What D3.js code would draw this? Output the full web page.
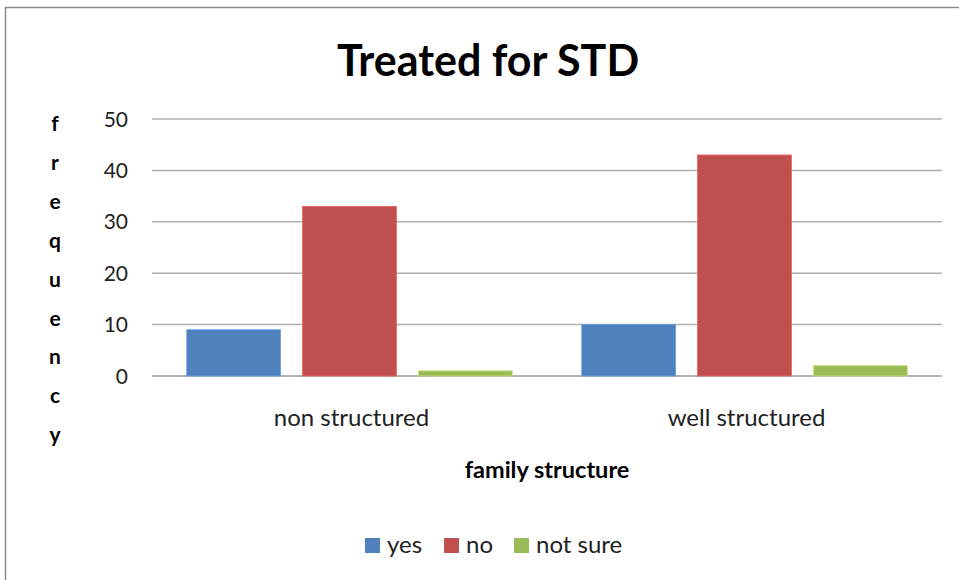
<!DOCTYPE html>
<html><head><meta charset="utf-8">
<script src="https://cdn.jsdelivr.net/npm/d3@7"></script>
<style>body{margin:0;background:#fff;} svg{display:block;}</style>
</head><body>
<script>
const categories = ["non structured", "well structured"];
const seriesNames = ["yes", "no", "not sure"];
const yesValues = [9, 10];
const noValues = [33, 43];
const notSureValues = [1, 2];
const yTicks = [0, 10, 20, 30, 40, 50];
const colors = ["#4F81BD", "#C0504D", "#9BBB59"];
const yTitle = "frequency";

const W = 959, H = 580;
const font = "Lato, 'Open Sans', sans-serif";
const svg = d3.select("body").append("svg").attr("width", W).attr("height", H);

svg.append("rect").attr("x", 5.5).attr("y", 7.5).attr("width", 960).attr("height", 600)
  .attr("fill", "#fff").attr("stroke", "#8a8a8a").attr("stroke-width", 1.5);

const m = {left: 152, right: 942, top: 119, bottom: 376};
const x = d3.scaleBand().domain(categories).range([m.left, m.right]).paddingInner(0).paddingOuter(0);
const y = d3.scaleLinear().domain([0, 50]).range([m.bottom, m.top]);
const xs = d3.scaleBand().domain(seriesNames).range([0, x.bandwidth()]).paddingInner(0.19).paddingOuter(0.3);

// gridlines
svg.append("g").selectAll("line").data(yTicks).join("line")
  .attr("x1", m.left).attr("x2", m.right)
  .attr("y1", d => y(d)).attr("y2", d => y(d))
  .attr("stroke", d => d === 0 ? "#999" : "#b0b0b0").attr("stroke-width", 1.5);

// y tick labels
svg.append("g").selectAll("text").data(yTicks).join("text")
  .attr("x", 128).attr("y", d => y(d)).attr("dy", "0.36em")
  .attr("text-anchor", "end").attr("font-family", font).attr("font-size", 21).attr("fill", "#222")
  .text(d => d);

const data = [yesValues, noValues, notSureValues];
seriesNames.forEach((s, si) => {
  svg.append("g").selectAll("rect").data(categories).join("rect")
    .attr("x", c => x(c) + xs(s))
    .attr("width", xs.bandwidth())
    .attr("y", (c, ci) => y(data[si][ci]))
    .attr("height", (c, ci) => y(0) - y(data[si][ci]))
    .attr("fill", colors[si])
    .attr("stroke", d3.color(colors[si]).brighter(0.6)).attr("stroke-width", 0.8);
});

// category labels
svg.append("g").selectAll("text").data(categories).join("text")
  .attr("x", c => x(c) + x.bandwidth() / 2 + 2).attr("y", 426)
  .attr("text-anchor", "middle").attr("font-family", font).attr("font-size", 24).attr("fill", "#222")
  .text(c => c);

// title
svg.append("text").attr("x", 488).attr("y", 76).attr("text-anchor", "middle")
  .attr("font-family", font).attr("font-weight", "bold").attr("font-size", 43).attr("fill", "#000")
  .text("Treated for STD");

// x axis title
svg.append("text").attr("x", 547).attr("y", 478).attr("text-anchor", "middle")
  .attr("font-family", font).attr("font-weight", "bold").attr("font-size", 23.5).attr("fill", "#000")
  .text("family structure");

// y axis title, stacked letters
svg.append("g").selectAll("text").data(yTitle.split("")).join("text")
  .attr("x", 55).attr("y", (d, i) => 131 + i * 38.9).attr("text-anchor", "middle")
  .attr("font-family", font).attr("font-weight", "bold").attr("font-size", 21).attr("fill", "#000")
  .text(d => d);

// legend
const legendX = [365, 444, 514];
const lg = svg.append("g");
seriesNames.forEach((s, i) => {
  lg.append("rect").attr("x", legendX[i]).attr("y", 538).attr("width", 15).attr("height", 15).attr("fill", colors[i]);
  lg.append("text").attr("x", legendX[i] + 22).attr("y", 553)
    .attr("font-family", font).attr("font-size", 24).attr("fill", "#222").text(s);
});
</script>
</body></html>
